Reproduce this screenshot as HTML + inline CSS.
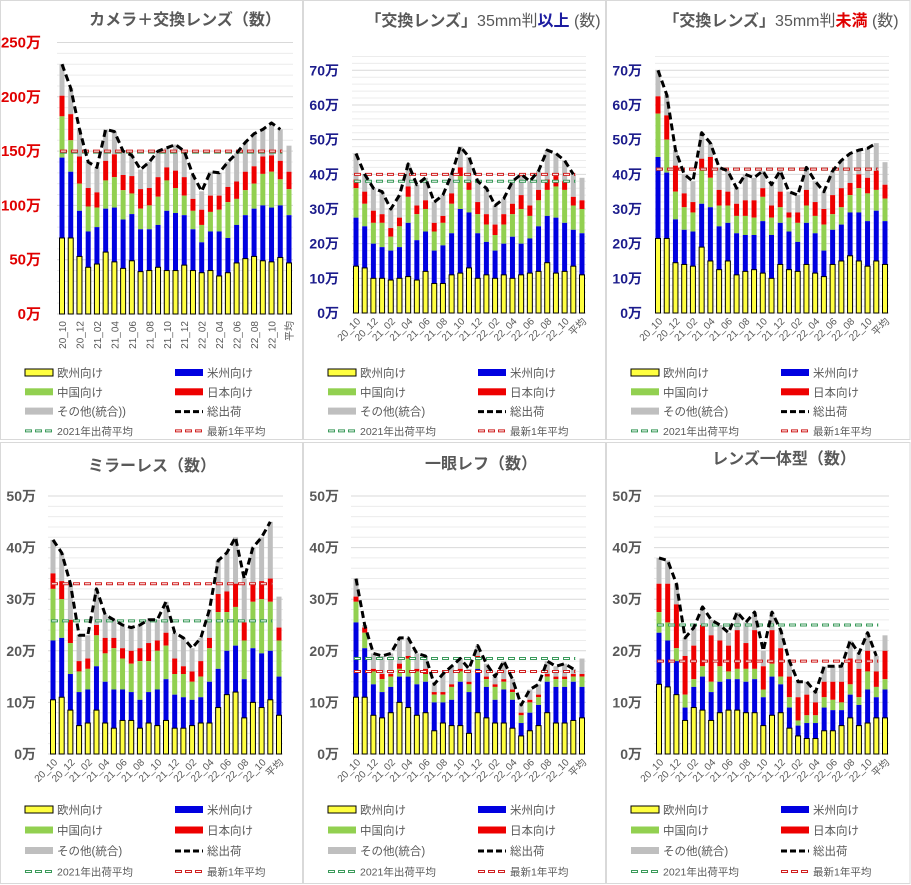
<!DOCTYPE html>
<html><head><meta charset="utf-8"><style>
html,body{margin:0;padding:0;background:#fff;}
svg{display:block;font-family:"Liberation Sans","Noto Sans CJK JP",sans-serif;}
</style></head><body>
<svg id="s" width="911" height="885" viewBox="0 0 911 885" xmlns="http://www.w3.org/2000/svg"></svg>
<script>
const P=[
{ox:0,oy:0,y0:314,sc:1.086,max:250,step:50,minor:10,gx0:57,gx1:293,bx0:62,bx1:289,lc:"#e00000",lfs:15,rot:-90,g:149,r:150,dbl:1,
title:'<tspan font-weight="bold">カメラ＋交換レンズ（数）</tspan>',tx:185,ty:25,
d:[[70,144,182,201,230],[70,131,160,184,208],[53,95,120,145,170],[43,76,99,116,140],[46,80,98,112,135],[57,97,123,141,170],[48,98,126,147,168],[42,87,114,128,150],[49,92,111,127,146],[39,78,97,115,133],[40,78,100,116,140],[43,82,108,126,150],[40,95,123,135,153],[40,93,116,132,156],[45,91,109,126,150],[40,78,95,106,128],[38,66,82,96,113],[40,76,94,109,131],[35,76,96,109,130],[38,70,103,117,140],[47,82,106,122,148],[51,91,114,131,158],[53,97,120,136,166],[49,100,129,145,170],[48,98,131,146,176],[52,100,124,141,170],[47,91,115,131,155]]},
{ox:303,oy:0,y0:313,sc:3.467,max:74,step:10,lmax:70,minor:2,gx0:49,gx1:283,bx0:53,bx1:279,lc:"#1c1c8c",lfs:14,rot:-45,g:38,r:40,
title:'<tspan font-weight="bold">「交換レンズ」</tspan><tspan>35mm判</tspan><tspan font-weight="bold" fill="#1c1ca0">以上</tspan><tspan> (数)</tspan>',tx:180,ty:26,
d:[[13.5,27.5,36,38.5,46],[13,25,31.5,35,40],[10,20,26,29.5,36],[10,19,26,28.5,35],[9.5,18,22,24.5,30],[10,19,25,27.5,34],[10.5,26,33.5,36.5,43],[9.5,21,28.5,31,37],[12,23.5,30,32.5,39],[8.5,18,23.5,26,32],[8.5,19.5,26,28,34],[11,23,31.5,34.5,40],[11.5,30,39.5,42,48],[13,29,35.5,38,45],[10,23,28.5,32,38],[11,20.5,25.5,28.5,36],[10,18,22.5,25.5,31],[11,20,25.5,28.5,33],[10,22,28.5,31.5,38],[11,20,30,34,40],[11.5,21.5,28,31,38],[12,25,32.5,35.5,41],[14.5,28,35.5,38.5,47],[11.5,27.5,36.5,39.5,46],[12,26,35.5,38,44],[13.5,24,31,33.5,40],[11,23,30,32.5,39]]},
{ox:606,oy:0,y0:313,sc:3.467,max:74,step:10,lmax:70,minor:2,gx0:49,gx1:283,bx0:52,bx1:279,lc:"#1c1c8c",lfs:14,rot:-45,g:41.5,r:41.5,
title:'<tspan font-weight="bold">「交換レンズ」</tspan><tspan>35mm判</tspan><tspan font-weight="bold" fill="#e00000">未満</tspan><tspan> (数)</tspan>',tx:175,ty:26,
d:[[21.5,45,57.5,62.5,70],[21.5,40.5,50,57,63],[14.5,27,35,42.5,47],[14,24,30.5,34.5,40],[13.5,23.5,29,32,38],[19,31.5,41.5,44.5,52],[15,30.5,39,45,49],[12.5,25,31,35.5,42],[15,26,31,35,41],[11,23,28,31.5,36],[12,22.5,28,32.5,40],[12.5,22.5,27.5,32.5,39],[11.5,26.5,33.5,36,41],[10,22.5,27.5,31,37],[14,26,30.5,35,41],[12.5,23.5,27.5,29,35],[12,20.5,26,29,34],[14,26,31,35.5,42],[11.5,23,28,32,38],[10.5,18,25.5,30,35],[14,24,28.5,34,41],[15,25.5,30.5,36,44],[16.5,29,34,37.5,46],[15,29,36,40,47],[13.5,26.5,34.5,39,47.5],[15,29.5,35.5,41,49],[14,26.5,33,37,43.5]]},
{ox:0,oy:440,y0:314,sc:5.16,max:50,step:10,minor:2,gx0:48,gx1:283,bx0:53,bx1:279,lc:"#595959",lfs:14,rot:-45,g:25.8,r:33,
title:'<tspan font-weight="bold">ミラーレス（数）</tspan>',tx:152,ty:31,
d:[[10.5,22,32,35,41.5],[11,22.5,30,33.5,39],[8.5,15.5,21.5,26,33],[5.5,12,16,18,23],[6,12.5,16.5,18.5,23],[8.5,17,23,25,32],[6,14,19.5,22.5,27],[5,12.5,20.5,22.5,26],[6.5,12.5,18.5,20.5,25],[6.5,12,17.5,20,24.5],[5,10.5,18,20.5,25],[6,12,18,21.5,26],[5.5,12.5,20,22,26],[6.5,14.5,21,23.5,29.5],[5,11.5,15.5,18.5,23.5],[5,11,15.5,17,22.5],[5.5,10.5,14,16,20.5],[6,11,15,18,22.5],[6,14,20.5,22.5,28],[9,16.5,27.5,31,37.5],[11.5,20,27.5,31.5,39],[12,21,28.5,33,42],[7,14.5,22,25.5,34],[10,20.5,29.5,33,40],[9,19.5,30,33.5,42],[10.5,20,29.5,34,45],[7.5,15,22,24.5,30.5]]},
{ox:303,oy:440,y0:314,sc:5.16,max:50,step:10,minor:2,gx0:48,gx1:283,bx0:53,bx1:279,lc:"#595959",lfs:14,rot:-45,g:18.5,r:16,
title:'<tspan font-weight="bold">一眼レフ（数）</tspan>',tx:178,ty:29,
d:[[11,25.5,29.5,30.5,34],[11,20.5,23.5,24.5,25],[7.5,13.5,16,16.5,19.5],[7,12,14.5,15.5,19],[8,13,15,15.5,19.5],[10,15,16.5,17.5,22.5],[9,15,18.5,19,22.5],[7.5,13.5,16,16.5,19.5],[8,14,15.5,16.5,19],[4.5,10,11.5,12,13.5],[6,10,11.5,12,15.5],[5.5,10.5,13,13.5,17],[5.5,14,16,16.5,18.5],[4,12,13.5,14,16.5],[8,16.5,18.5,19,21],[7,13,14.5,15,17.5],[6,10.5,13,13.5,15],[6,12.5,14,14.5,18],[5,10.5,12,12.5,14.5],[3.5,6,7.5,8,9.5],[4.5,8,10,10.5,12.5],[5.5,9.5,11,11.5,13.5],[8,14,15,15.5,18],[6,13,14.5,15,17],[6,13,14.5,15,17.5],[6.5,14,15,15.5,16.5],[7,13,15,15.5,18.5]]},
{ox:606,oy:440,y0:314,sc:5.16,max:50,step:10,minor:2,gx0:48,gx1:283,bx0:53,bx1:279,lc:"#595959",lfs:14,rot:-45,g:25,r:18,
title:'<tspan font-weight="bold">レンズ一体型（数）</tspan>',tx:178,ty:24,
d:[[13.5,23.5,27.5,33,38],[13,22,25.5,33,37.5],[11.5,18,20.5,29,33],[6.5,9,11.5,19,22.5],[9,13,14.5,21,24.5],[8.5,15,17,25,28.5],[6.5,12,14,23,26],[8,14,17,22,25],[8.5,14.5,16,21,23.5],[8.5,14.5,16.5,24,27.5],[8,14,16.5,21.5,25.5],[8,14.5,16.5,24,27.5],[5.5,11,12.5,17,20],[7.5,15,17.5,24,27.5],[8,13.5,15,20.5,24],[5,9,11,15,18],[3.5,5.5,6.5,11,14],[3,6,7.5,11.5,14],[3,6,7.5,10,12],[4.5,9,11,14,17],[4.5,8.5,10.5,14,17],[5.5,8.5,10,14,17],[7,11.5,13.5,18.5,22],[5.5,9.5,11,16.5,19.5],[6,12.5,16,20,23.5],[7,11,13,16,19],[7,12.5,14.5,20,23]]}
];
const labs=["20_10","20_12","21_02","21_04","21_06","21_08","21_10","21_12","22_02","22_04","22_06","22_08","22_10","平均"];
const cols=["#ffff40","#0000e0","#92d050","#ee0000","#bfbfbf"];
let h='';
h+='<rect x="0.5" y="0.5" width="302" height="439" fill="none" stroke="#d9d9d9"/>';
h+='<rect x="303.5" y="0.5" width="302" height="439" fill="none" stroke="#d9d9d9"/>';
h+='<rect x="606.5" y="0.5" width="303.5" height="439" fill="none" stroke="#d9d9d9"/>';
h+='<rect x="0.5" y="442.5" width="302" height="441" fill="none" stroke="#d9d9d9"/>';
h+='<rect x="303.5" y="442.5" width="302" height="441" fill="none" stroke="#d9d9d9"/>';
h+='<rect x="606.5" y="442.5" width="303.5" height="441" fill="none" stroke="#d9d9d9"/>';
P.forEach(p=>{
 const ox=p.ox,oy=p.oy,Y=v=>oy+p.y0-v*p.sc;
 h+=`<text x="${ox+p.tx}" y="${oy+p.ty}" font-size="16" fill="#595959" text-anchor="middle">${p.title}</text>`;
 for(let v=0;v<=p.max+0.001;v+=p.minor){
  const y=Y(v);const maj=Math.abs(v/p.step-Math.round(v/p.step))<0.001;
  h+=`<line x1="${ox+p.gx0}" x2="${ox+p.gx1}" y1="${y}" y2="${y}" stroke="${maj?'#d9d9d9':'#ececec'}" stroke-width="1"/>`;
 }
 const lm=p.lmax||p.max;
 for(let v=0;v<=lm;v+=p.step){
  h+=`<text x="${ox+(p.rot==-90?41:36)}" y="${Y(v)+5}" font-size="${p.lfs}" font-weight="bold" fill="${p.lc}" text-anchor="end">${v}万</text>`;
 }
 const n=p.d.length,dx=(p.bx1-p.bx0)/(n-1),bw=5;
 p.d.forEach((b,i)=>{
  const x=ox+p.bx0+i*dx-bw/2;
  for(let k=4;k>=1;k--){
   h+=`<rect x="${x}" y="${Y(b[k])}" width="${bw}" height="${(b[k]-b[k-1])*p.sc}" fill="${cols[k]}"/>`;
  }
  h+=`<rect x="${x}" y="${Y(b[0])}" width="${bw}" height="${b[0]*p.sc}" fill="${cols[0]}" stroke="#000" stroke-width="1"/>`;
 });
 const rx0=ox+p.bx0-2,rx1=ox+p.bx0+(n-2)*dx+2;
 [[p.g,"#3a9a5a"],[p.r,"#d02020"]].forEach(([v,c])=>{
  h+=`<line x1="${rx0}" x2="${rx1}" y1="${Y(v)}" y2="${Y(v)}" stroke="${c}" stroke-width="3" stroke-dasharray="7,4"/>`;
  h+=`<line x1="${rx0}" x2="${rx1}" y1="${Y(v)}" y2="${Y(v)}" stroke="#fff" stroke-width="1" stroke-dasharray="5,6" stroke-dashoffset="-1"/>`;
 });
 let pts=[];for(let i=0;i<n-1;i++)pts.push((ox+p.bx0+i*dx).toFixed(1)+','+Y(p.d[i][4]).toFixed(1));
 h+=`<polyline points="${pts.join(' ')}" fill="none" stroke="#000" stroke-width="3" stroke-dasharray="7,4" stroke-linejoin="round"/>`;
 labs.forEach((l,j)=>{
  const i=j*2;const x=ox+p.bx0+i*dx;const y=oy+p.y0+7;
  if(p.rot==-90) h+=`<text transform="translate(${x+4},${y}) rotate(-90)" font-size="10" fill="#595959" text-anchor="end">${l}</text>`;
  else h+=`<text transform="translate(${x+5},${y+2}) rotate(-45)" font-size="10" fill="#595959" text-anchor="end">${l}</text>`;
 });
 const ly=oy+(oy?370:373),rs=oy?20.5:19.3;
 const L=[["欧州向け","eu"],["米州向け","us"],["中国向け","cn"],["日本向け","jp"],["その他(統合"+(p.dbl?"))":")"),"ot"],["総出荷","tot"],["2021年出荷平均","g"],["最新1年平均","r"]];
 L.forEach((e,k)=>{
  const col=k%2,row=Math.floor(k/2);
  const sx=ox+(col?175:25),ty=ly+row*rs;
  const c={eu:cols[0],us:cols[1],cn:cols[2],jp:cols[3],ot:cols[4]}[e[1]];
  if(e[1]=="eu") h+=`<rect x="${sx}" y="${ty-4}" width="28" height="7" fill="${c}" stroke="#000" stroke-width="1"/>`;
  else if(c) h+=`<rect x="${sx}" y="${ty-4}" width="28" height="7" fill="${c}"/>`;
  else if(e[1]=="tot") h+=`<line x1="${sx}" x2="${sx+28}" y1="${ty}" y2="${ty}" stroke="#000" stroke-width="3" stroke-dasharray="6,3"/>`;
  else {const cc=e[1]=="g"?"#3a9a5a":"#d02020";
   h+=`<line x1="${sx}" x2="${sx+28}" y1="${ty}" y2="${ty}" stroke="${cc}" stroke-width="3" stroke-dasharray="7,3"/><line x1="${sx}" x2="${sx+28}" y1="${ty}" y2="${ty}" stroke="#fff" stroke-width="1" stroke-dasharray="5,5" stroke-dashoffset="-1"/>`;}
  h+=`<text x="${sx+32}" y="${ty+4}" font-size="${e[1]=="g"||e[1]=="r"?10.5:11.5}" fill="#595959">${e[0]}</text>`;
 });
});
document.getElementById('s').innerHTML=h;
</script>
</body></html>
